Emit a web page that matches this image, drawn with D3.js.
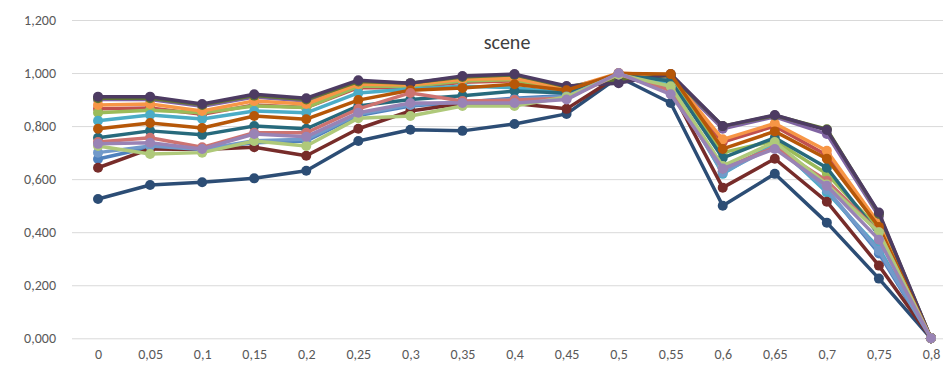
<!DOCTYPE html>
<html><head><meta charset="utf-8">
<script src="https://cdn.jsdelivr.net/npm/d3@7"></script>
<style>body{margin:0;background:#fff}svg{display:block}</style>
</head><body><svg id="c" width="943" height="368"></svg>
<script>
const categories = ["0","0,05","0,1","0,15","0,2","0,25","0,3","0,35","0,4","0,45","0,5","0,55","0,6","0,65","0,7","0,75","0,8"];
const yTicks = [0,0.2,0.4,0.6,0.8,1.0,1.2];
const title = "scene";
const s1  = [0.676,0.720,0.715,0.737,0.744,0.840,0.876,0.890,0.905,0.915,0.995,0.950,0.630,0.730,0.560,0.320,0];
const s2  = [0.865,0.868,0.845,0.880,0.870,0.945,0.945,0.965,0.970,0.935,0.995,0.975,0.740,0.800,0.690,0.420,0];
const s3  = [0.850,0.860,0.850,0.876,0.870,0.950,0.950,0.970,0.975,0.930,0.998,0.975,0.700,0.745,0.620,0.410,0];
const s4  = [0.900,0.900,0.875,0.910,0.895,0.965,0.960,0.982,0.990,0.945,0.990,0.985,0.790,0.835,0.770,0.460,0];
const s5  = [0.820,0.842,0.827,0.857,0.850,0.925,0.940,0.950,0.945,0.925,0.998,0.960,0.620,0.735,0.550,0.340,0];
const s6  = [0.880,0.883,0.857,0.895,0.883,0.958,0.955,0.977,0.980,0.940,1.000,0.990,0.750,0.810,0.707,0.432,0];
const s7  = [0.525,0.578,0.588,0.603,0.632,0.744,0.786,0.782,0.808,0.846,0.985,0.887,0.500,0.620,0.436,0.225,0];
const s8  = [0.643,0.714,0.712,0.720,0.688,0.790,0.857,0.885,0.885,0.865,0.990,0.940,0.568,0.677,0.515,0.274,0];
const s9  = [0.905,0.905,0.880,0.915,0.900,0.968,0.962,0.985,0.993,0.948,0.975,0.992,0.800,0.840,0.788,0.470,0];
const s10 = [0.911,0.911,0.883,0.920,0.905,0.973,0.962,0.989,0.996,0.951,0.962,0.996,0.800,0.842,0.785,0.474,0];
const s11 = [0.756,0.782,0.767,0.800,0.790,0.876,0.900,0.914,0.932,0.925,0.995,0.970,0.680,0.756,0.643,0.390,0];
const s12 = [0.790,0.812,0.793,0.838,0.826,0.898,0.935,0.944,0.958,0.935,0.998,0.996,0.714,0.780,0.677,0.420,0];
const s13 = [0.700,0.725,0.712,0.745,0.750,0.845,0.880,0.892,0.900,0.912,0.995,0.945,0.625,0.725,0.560,0.330,0];
const s14 = [0.740,0.756,0.720,0.775,0.775,0.865,0.925,0.895,0.898,0.905,0.995,0.935,0.640,0.720,0.594,0.400,0];
const s15 = [0.725,0.695,0.700,0.744,0.725,0.830,0.838,0.876,0.876,0.910,0.995,0.950,0.650,0.740,0.580,0.400,0];
const s16 = [0.733,0.737,0.714,0.770,0.760,0.850,0.887,0.887,0.887,0.900,1.000,0.920,0.640,0.714,0.575,0.372,0];
const series = [s1,s2,s3,s4,s5,s6,s7,s8,s9,s10,s11,s12,s13,s14,s15,s16];
const colors = ["#4F81BD","#C0504D","#9BBB59","#8064A2","#4BACC6","#F79646","#2C4D75","#772C2A","#5F7530","#4D3B62","#276A7C","#B65708","#729ACA","#CD7371","#AFC97A","#9983B5"];

const svg = d3.select("#c");
const x = d3.scalePoint().domain(categories).range([72,957]).padding(0.5);
const y = d3.scaleLinear().domain([0,1.2]).range([338.3,20]);
const font = "Carlito, Lato, 'Open Sans', sans-serif";

const yAxis = d3.axisLeft(y).tickValues(yTicks).tickSize(-871)
  .tickFormat(v => d3.format(".3f")(v).replace(".", ","));
const gy = svg.append("g").attr("transform","translate(72,0)").call(yAxis);
gy.select(".domain").remove();
gy.selectAll(".tick line").attr("stroke","#d9d9d9").attr("stroke-width",1);
gy.selectAll(".tick text").attr("x",-16).attr("fill","#595959")
  .style("font-family",font).style("font-size","14px");

const xAxis = d3.axisBottom(x).tickSize(0).tickPadding(11);
const gx = svg.append("g").attr("transform","translate(0,338.3)").call(xAxis);
gx.select(".domain").remove();
gx.selectAll(".tick text").attr("fill","#595959")
  .style("font-family",font).style("font-size","14px");

const line = d3.line().x((d,i)=>x(categories[i])).y(d=>y(d));
series.forEach((s,k)=>{
  const g = svg.append("g");
  g.append("path").datum(s).attr("d",line).attr("fill","none")
    .attr("stroke",colors[k]).attr("stroke-width",3.5).attr("stroke-linejoin","round");
  g.selectAll("circle").data(s).join("circle")
    .attr("cx",(d,i)=>x(categories[i])).attr("cy",d=>y(d)).attr("r",5)
    .attr("fill",colors[k]);
});

svg.append("text").attr("x",507).attr("y",49).attr("text-anchor","middle")
  .attr("fill","#404040").style("font-family",font)
  .style("font-size","20px").text(title);
</script></body></html>
